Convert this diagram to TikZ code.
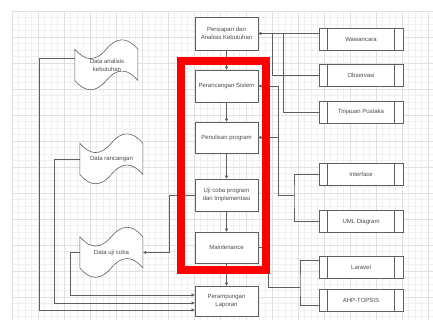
\documentclass[tikz,border=0pt]{standalone}
\usepackage{fontspec}
\setmainfont{Liberation Sans}
\usetikzlibrary{arrows.meta,calc}
\definecolor{txt}{RGB}{75,75,75}
\definecolor{ln}{RGB}{95,95,95}
\definecolor{gminor}{RGB}{240,240,240}
\definecolor{gmajor}{RGB}{224,224,224}
\newcommand\tapedoc[1]{%
  \begin{scope}[shift={(#1.north west)}]
    \draw[draw=ln, line width=0.6pt, fill=white] (0,10.4) .. controls (10.5,22.9) and (21,22.9) .. (31.5,10.4)
      .. controls (42,-2.1) and (52.5,-2.1) .. (63,10.4) -- (63,41.6)
      .. controls (52.5,29.1) and (42,29.1) .. (31.5,41.6)
      .. controls (21,54.1) and (10.5,54.1) .. (0,41.6) -- cycle;
  \end{scope}}
\begin{document}
\begin{tikzpicture}[x=1pt,y=-1pt,
  font=\fontsize{6}{8}\selectfont,
  mainbox/.style={draw=ln, line width=0.6pt, fill=white, minimum width=63pt, minimum height=32pt, align=center, text=txt, inner sep=1pt},
  procbox/.style={draw=ln, line width=0.6pt, fill=white, minimum width=84pt, minimum height=22pt, text=txt, inner sep=1pt},
  docnode/.style={minimum width=63pt, minimum height=52pt, inner sep=0pt},
  doctext/.style={align=center, text=txt, inner sep=1pt},
  conn/.style={draw=ln, line width=0.5pt},
  arr/.style={conn, -{Triangle[length=3pt,width=3pt]}}
]
\useasboundingbox (0,0) rectangle (433,320);
\fill[white] (0,0) rectangle (433,320);
% grid
\foreach \i in {0,...,64} \draw[gminor, line width=0.3pt] ({12+6.5*\i},11) -- ({12+6.5*\i},320);
\foreach \i in {0,...,47} \draw[gminor, line width=0.3pt] (12,{11+6.5*\i}) -- (433,{11+6.5*\i});
\foreach \i in {0,...,16} \draw[gmajor, line width=0.4pt] ({12+26*\i},11) -- ({12+26*\i},320);
\foreach \i in {0,...,11} \draw[gmajor, line width=0.4pt] (12,{11+26*\i}) -- (433,{11+26*\i});

% main column
\node[mainbox, minimum height=33pt] (b1) at (226.5,33.5) {Persiapan dan\\Analisis Kebutuhan};
\node[mainbox] (b2) at (226.5,86) {Perancangan Sistem};
\node[mainbox, minimum height=31pt] (b3) at (226.5,137.5) {Penulisan program};
\node[mainbox] (b4) at (226.5,195) {Uji coba program\\dan Implementasi};
\node[mainbox, minimum height=31pt] (b5) at (226.5,247.5) {Maintenance};
\node[mainbox, minimum height=30pt] (b6) at (226.5,301) {Perampungan\\Laporan};

% right column
\node[procbox] (w)  at (361,39)    {Wawancara};
\node[procbox] (o)  at (361,75.5)  {Observasi};
\node[procbox] (t)  at (361,112)   {Tinjauan Pustaka};
\node[procbox] (i)  at (361,174.5) {Interface};
\node[procbox] (u)  at (361,221.5) {UML Diagram};
\node[procbox] (la) at (361,267.5) {Laravel};
\node[procbox] (ah) at (361,300.5) {AHP-TOPSIS};
\foreach \n in {w,o,t,i,u,la,ah} {
  \draw[conn] ([xshift=9pt]\n.north west) -- ([xshift=9pt]\n.south west);
  \draw[conn] ([xshift=-9pt]\n.north east) -- ([xshift=-9pt]\n.south east);
}

% documents
\node[docnode] (d1) at (106.5,65) {};
\node[docnode] (d2) at (111.5,159) {};
\node[docnode] (d3) at (111.5,252.5) {};
\tapedoc{d1}\tapedoc{d2}\tapedoc{d3}
\node[doctext] (d1t) at (107,65) {Data analisis\\kebutuhan};
\node[doctext] (d2t) at (d2.center) {Data rancangan};
\node[doctext] (d3t) at (d3.center) {Data uji coba};

% main flow
\draw[arr] (b1) -- (b2);
\draw[arr] (b2) -- (b3);
\draw[arr] (b3) -- (b4);
\draw[arr] (b4) -- (b5);
\draw[arr] (b5) -- (b6);

% right inputs
\draw[arr] (b1.east -| w.west) -- (b1.east);
\draw[conn] (o.west) -| ([xshift=14pt]b1.east);
\draw[conn] (t.west) -| ([xshift=25pt]b1.east);
\coordinate (jb) at (294,195);
\draw[conn] (i.west) -| (jb) |- (u.west);
\draw[arr] (jb) -| ([xshift=20pt]b2.east) -- (b2.east);
\draw[arr] ([xshift=20pt]b3.east) -- (b3.east);
\coordinate (jl) at (300,287);
\draw[conn] ([yshift=7pt]la.west) -| (jl) |- ([yshift=-4.5pt]ah.west);
\draw[conn] (jl) -| ([xshift=10pt]b5.east) -- (b5.east);

% left outputs
\draw[arr] (b4.west) -- ++(-25,0) |- (d3.east);
\draw[arr] ([yshift=7pt]d1.west) -- ++(-36,0) |- ([yshift=-9pt]b6.west);
\draw[arr] (d2.west) -- ++(-26,0) |- ([yshift=-2pt]b6.west);
\draw[arr] (d3.west) -- ++(-10,0) |- ([yshift=6pt]b6.west);

% highlight
\draw[red, line width=8pt] (181,61) rectangle (266,270);
\end{tikzpicture}
\end{document}
